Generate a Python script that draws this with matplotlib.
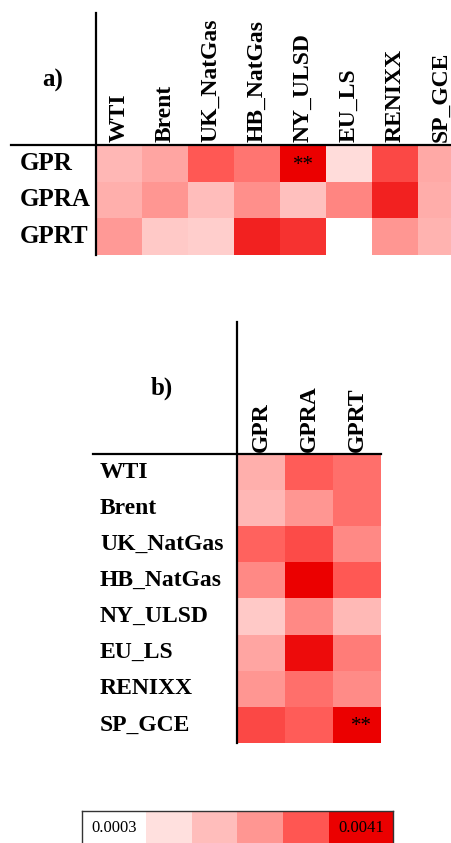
import numpy as np
import matplotlib.pyplot as plt
from matplotlib.colors import LinearSegmentedColormap
from matplotlib.lines import Line2D

plt.rcParams['font.family'] = ['Liberation Serif', 'DejaVu Serif']

markets = ['WTI', 'Brent', 'UK_NatGas', 'HB_NatGas', 'NY_ULSD', 'EU_LS', 'RENIXX', 'SP_GCE']
gpr_idx = ['GPR', 'GPRA', 'GPRT']

# a) GPR indices (rows) -> markets (columns)
a_gpr  = [0.00193, 0.00228, 0.00330, 0.00296, 0.00410, 0.00114, 0.00345, 0.00220]
a_gpra = [0.00209, 0.00258, 0.00182, 0.00266, 0.00174, 0.00277, 0.00380, 0.00212]
a_gprt = [0.00250, 0.00155, 0.00144, 0.00380, 0.00364, 0.00030, 0.00258, 0.00201]

# b) markets (rows) -> GPR indices (columns)
b_wti    = [0.00209, 0.00326, 0.00304]
b_brent  = [0.00193, 0.00256, 0.00304]
b_ukgas  = [0.00319, 0.00342, 0.00273]
b_hbgas  = [0.00273, 0.00410, 0.00330]
b_nyulsd = [0.00155, 0.00273, 0.00190]
b_euls   = [0.00228, 0.00399, 0.00288]
b_renixx = [0.00256, 0.00304, 0.00269]
b_spgce  = [0.00345, 0.00326, 0.00410]

# significance marks: (row, col)
a_stars = [(0, 4)]
b_stars = [(7, 2)]

vmin, vmax = 0.0003, 0.0041
legend_labels = ['0.0003', '0.0041']

cmap = LinearSegmentedColormap.from_list('wr', [
    (0.0, '#ffffff'), (0.2, '#ffe0de'), (0.4, '#ffbdbb'),
    (0.6, '#ff9692'), (0.8, '#ff5652'), (1.0, '#eb0000')])

W, H = 452, 843
fig = plt.figure(figsize=(W / 100, H / 100), dpi=100)


def box(x0, y0, x1, y1):
    # pixel box (top-left origin) -> figure fraction rect
    return [x0 / W, 1 - y1 / H, (x1 - x0) / W, (y1 - y0) / H]


def line(x0, y0, x1, y1):
    fig.add_artist(Line2D([x0 / W, x1 / W], [1 - y0 / H, 1 - y1 / H],
                          transform=fig.transFigure, color='black', lw=1.6))


lab = dict(fontweight='bold', fontsize=17)

# ---- panel a
A = np.array([a_gpr, a_gpra, a_gprt])
ax1 = fig.add_axes(box(96, 145, 464, 255))
ax1.imshow(A, cmap=cmap, vmin=vmin, vmax=vmax, aspect='auto', interpolation='nearest')
ax1.axis('off')
for j, m in enumerate(markets):
    ax1.text(j, -0.58, m, rotation=90, ha='center', va='bottom', clip_on=False, **lab)
for i, r in enumerate(gpr_idx):
    ax1.text(20 / W, i, r, transform=ax1.get_yaxis_transform().__class__(fig.transFigure, ax1.transData),
             ha='left', va='center', fontweight='bold', fontsize=18)
for i, j in a_stars:
    ax1.text(j, i + 0.05, '**', ha='center', va='center', fontsize=15)
fig.text(53 / W, 1 - 80 / H, 'a)', ha='center', va='center', fontweight='bold', fontsize=18)
line(96, 13, 96, 255)
line(11, 145, 452, 145)

# ---- panel b
B = np.array([b_wti, b_brent, b_ukgas, b_hbgas, b_nyulsd, b_euls, b_renixx, b_spgce])
ax2 = fig.add_axes(box(237, 454, 381, 743))
ax2.imshow(B, cmap=cmap, vmin=vmin, vmax=vmax, aspect='auto', interpolation='nearest')
ax2.axis('off')
for j, c in enumerate(gpr_idx):
    ax2.text(j, -0.56, c, rotation=90, ha='center', va='bottom', clip_on=False, **lab)
for i, m in enumerate(markets):
    ax2.text(100 / W, i, m, transform=ax2.get_yaxis_transform().__class__(fig.transFigure, ax2.transData),
             ha='left', va='center', **lab)
for i, j in b_stars:
    ax2.text(j + 0.1, i + 0.05, '**', ha='center', va='center', fontsize=15)
fig.text(162 / W, 1 - 388 / H, 'b)', ha='center', va='center', fontweight='bold', fontsize=18)
line(237, 322, 237, 743)
line(93, 454, 381, 454)

# ---- colour key
ax3 = fig.add_axes(box(82, 811, 393, 850))
steps = np.linspace(vmin, vmax, 6)
widths = [1.4, 1, 1, 1, 1, 1.4]
edges = np.concatenate([[0], np.cumsum(widths)])
ax3.pcolormesh(edges, [0, 1], steps[np.newaxis, :], cmap=cmap, vmin=vmin, vmax=vmax)
ax3.set_xlim(edges[0], edges[-1])
ax3.set_ylim(0, 1)
ax3.set_xticks([])
ax3.set_yticks([])
for s in ax3.spines.values():
    s.set_color('#333333')
    s.set_linewidth(1.0)
ax3.text(0.2, 0.56, legend_labels[0], ha='left', va='center', fontsize=12)
ax3.text(edges[-1] - 0.2, 0.56, legend_labels[1], ha='right', va='center', fontsize=12)

fig.savefig('out.png', dpi=100)
